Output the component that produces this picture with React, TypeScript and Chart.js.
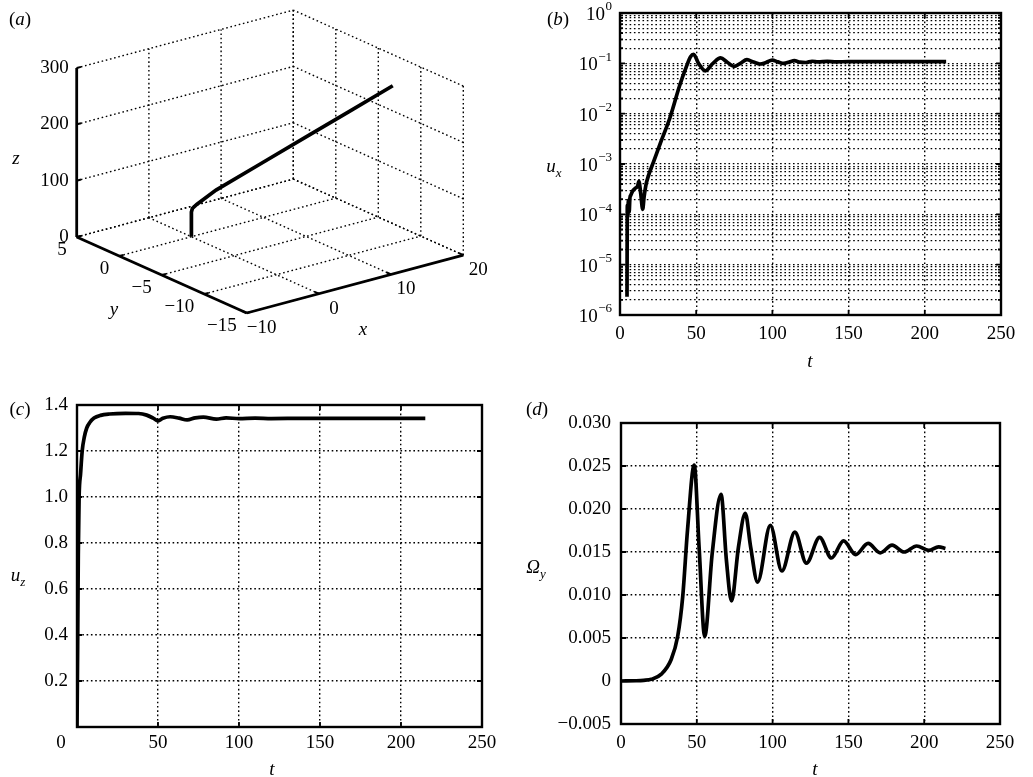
import React, { useEffect, useRef } from "react";
import { Chart, registerables } from "chart.js";

Chart.register(...registerables);

// ---------------- Data ----------------
// (a) 3-D trajectory of the body
const trajX = [0, 0, 0, 0.1, 0.5, 1.2, 2, 6, 10, 14, 18];
const trajY = [0, 0, 0, -0.03, -0.2, -0.7, -1.2, -3.0, -4.8, -6.6, -8.4];
const trajZ = [0, 20, 44, 50, 57, 70, 84, 128.75, 173.5, 218.25, 263];
const x3Ticks = [-10, 0, 10, 20];
const y3Ticks = [-15, -10, -5, 0, 5];
const z3Ticks = [0, 100, 200, 300];

// (b) u_x versus t (logarithmic)
const uxT = [4.6, 4.8, 5.1, 5.5, 6.0, 6.5, 7.1, 8.3, 10.0, 11.5, 12.4, 13.6, 14.9, 15.8, 17.0, 18.8, 22.0, 26.5, 33.0, 39.0, 43.5, 46.3, 48.3, 51.5, 56.0, 61.0, 66.0, 70.4, 74.7, 79.0, 83.3, 87.6, 91.8, 95.8, 99.8, 103.6, 107.5, 111.0, 114.4, 118, 122, 126, 130, 136, 142, 150, 170, 190, 214];
const uxV = [2.3e-6, 1.5e-4, 9e-5, 1.9e-4, 1.1e-4, 2.1e-4, 2.4e-4, 2.9e-4, 3.3e-4, 3.6e-4, 4.5e-4, 2.6e-4, 1.26e-4, 2.2e-4, 3.8e-4, 6.0e-4, 1.1e-3, 2.6e-3, 8.7e-3, 0.035, 0.085, 0.135, 0.15, 0.1, 0.071, 0.1, 0.128, 0.105, 0.087, 0.1, 0.118, 0.106, 0.097, 0.104, 0.116, 0.107, 0.1, 0.106, 0.113, 0.106, 0.104, 0.11, 0.107, 0.109, 0.107, 0.108, 0.108, 0.108, 0.108];
const uxDecades = [-6, -5, -4, -3, -2, -1, 0];

// (c) u_z versus t
const uzT = [0, 0.4, 0.8, 1.3, 2.2, 3.2, 4.5, 6, 8, 10.5, 14.5, 20, 30, 38, 43, 47, 50, 53, 57.5, 63, 68, 73, 78, 86, 92, 100, 110, 120, 140, 170, 215];
const uzV = [0, 0.35, 0.75, 1.0, 1.1, 1.2, 1.26, 1.3, 1.325, 1.343, 1.355, 1.361, 1.364, 1.363, 1.356, 1.343, 1.331, 1.342, 1.349, 1.343, 1.335, 1.344, 1.347, 1.339, 1.344, 1.341, 1.343, 1.341, 1.342, 1.342, 1.342];
const uzTicks = [0, 0.2, 0.4, 0.6, 0.8, 1.0, 1.2, 1.4];

// (d) Omega_y versus t
const omT = [0, 10, 15, 20, 26.6, 33.1, 37.4, 40.7, 43.9, 48.3, 51.5, 55.2, 60.2, 66.0, 69.5, 72.9, 77.5, 82.0, 85.5, 90.1, 98.5, 106.1, 114.7, 122.3, 131.0, 138.8, 146.8, 154.8, 163.0, 171.0, 178.8, 186.8, 195.0, 203.0, 209.5, 214];
const omV = [0, 0.00003, 0.00008, 0.0002, 0.0008, 0.0025, 0.0052, 0.0098, 0.0176, 0.0251, 0.0156, 0.0052, 0.0149, 0.0217, 0.0141, 0.0093, 0.0156, 0.0195, 0.0156, 0.0115, 0.0181, 0.0128, 0.0173, 0.0137, 0.0167, 0.0143, 0.0163, 0.0147, 0.016, 0.0149, 0.0158, 0.015, 0.0157, 0.0152, 0.0156, 0.0154];
const omTicks = [-0.005, 0, 0.005, 0.01, 0.015, 0.02, 0.025, 0.03];

const tTicks = [0, 50, 100, 150, 200, 250];

// ---------------- Style ----------------
const FONT = "'Liberation Serif', 'Times New Roman', Times, serif";
const TICK_PX = 19;
const GRID_COLOR = "#000";
const GRID_W = 1.4;
const DOT = [1.6, 2.7];
const LINE_W = 3.7;

const minus = (v: number | string) => String(v).replace("-", "\u2212");

// 3-D box projection (panel a, canvas pixels)
const BOX_ORIGIN = [246.7, 313];
const BOX_XEDGE = [216.6, -57.9];
const BOX_YEDGE = [-170, -76];
const BOX_ZEDGE = [0, -169];
const X3MIN = x3Ticks[0], X3MAX = x3Ticks[x3Ticks.length - 1];
const Y3MIN = y3Ticks[0], Y3MAX = y3Ticks[y3Ticks.length - 1];
const Z3MIN = z3Ticks[0], Z3MAX = z3Ticks[z3Ticks.length - 1];

function proj(x: number, y: number, z: number) {
  const a = (x - X3MIN) / (X3MAX - X3MIN);
  const b = (y - Y3MIN) / (Y3MAX - Y3MIN);
  const c = (z - Z3MIN) / (Z3MAX - Z3MIN);
  return {
    x: BOX_ORIGIN[0] + a * BOX_XEDGE[0] + b * BOX_YEDGE[0] + c * BOX_ZEDGE[0],
    y: BOX_ORIGIN[1] + a * BOX_XEDGE[1] + b * BOX_YEDGE[1] + c * BOX_ZEDGE[1],
  };
}

function seg(p: number[], q: number[], kind: "grid" | "axis" | "tick") {
  const pts = [proj(p[0], p[1], p[2]), proj(q[0], q[1], q[2])];
  if (kind === "grid") {
    return { data: pts, showLine: true, borderColor: GRID_COLOR, borderWidth: GRID_W, borderDash: DOT, pointRadius: 0, order: 3 };
  }
  return { data: pts, showLine: true, borderColor: "#000", borderWidth: kind === "axis" ? 2.8 : 2, pointRadius: 0, order: 2 };
}

function build3DDatasets() {
  const ds: any[] = [];
  // floor z = min
  for (const x of x3Ticks) ds.push(seg([x, Y3MIN, Z3MIN], [x, Y3MAX, Z3MIN], "grid"));
  for (const y of y3Ticks) ds.push(seg([X3MIN, y, Z3MIN], [X3MAX, y, Z3MIN], "grid"));
  // back wall y = max
  for (const x of x3Ticks) ds.push(seg([x, Y3MAX, Z3MIN], [x, Y3MAX, Z3MAX], "grid"));
  for (const z of z3Ticks) ds.push(seg([X3MIN, Y3MAX, z], [X3MAX, Y3MAX, z], "grid"));
  // side wall x = max
  for (const y of y3Ticks) ds.push(seg([X3MAX, y, Z3MIN], [X3MAX, y, Z3MAX], "grid"));
  for (const z of z3Ticks) ds.push(seg([X3MAX, Y3MIN, z], [X3MAX, Y3MAX, z], "grid"));
  // axes
  ds.push(seg([X3MIN, Y3MAX, Z3MIN], [X3MIN, Y3MAX, Z3MAX], "axis"));
  ds.push(seg([X3MIN, Y3MAX, Z3MIN], [X3MIN, Y3MIN, Z3MIN], "axis"));
  ds.push(seg([X3MIN, Y3MIN, Z3MIN], [X3MAX, Y3MIN, Z3MIN], "axis"));
  // tick marks
  for (const z of z3Ticks) ds.push(seg([X3MIN, Y3MAX, z], [X3MIN + 0.6, Y3MAX, z], "tick"));
  for (const y of y3Ticks) ds.push(seg([X3MIN, y, Z3MIN], [X3MIN + 0.6, y, Z3MIN], "tick"));
  for (const x of x3Ticks) ds.push(seg([x, Y3MIN, Z3MIN], [x, Y3MIN + 0.5, Z3MIN], "tick"));
  // trajectory
  ds.push({
    data: trajX.map((x, i) => proj(x, trajY[i], trajZ[i])),
    showLine: true, borderColor: "#000", borderWidth: LINE_W, pointRadius: 0, order: 0,
  });
  return ds;
}

const labels3D = {
  id: "labels3D",
  afterDraw(chart: any) {
    const ctx = chart.ctx;
    const sx = chart.scales.x, sy = chart.scales.y;
    const P = (x: number, y: number, z: number) => {
      const p = proj(x, y, z);
      return [sx.getPixelForValue(p.x), sy.getPixelForValue(p.y)];
    };
    ctx.save();
    ctx.fillStyle = "#000";
    ctx.font = `${TICK_PX}px ${FONT}`;
    ctx.textBaseline = "middle";
    ctx.textAlign = "right";
    for (const z of z3Ticks) { const [px, py] = P(X3MIN, Y3MAX, z); ctx.fillText(String(z), px - 8, py); }
    for (const y of y3Ticks) { const [px, py] = P(X3MIN, y, Z3MIN); ctx.fillText(minus(y), px - 10, py + 13); }
    ctx.textAlign = "center";
    for (const x of x3Ticks) { const [px, py] = P(x, Y3MIN, Z3MIN); ctx.fillText(minus(x), px + 15, py + 15); }
    ctx.restore();
  },
};

const framePlugin = {
  id: "frame",
  afterDraw(chart: any) {
    const { ctx, chartArea } = chart;
    const { left, top, right, bottom } = chartArea;
    ctx.save();
    ctx.setLineDash([]);
    ctx.strokeStyle = "#000";
    ctx.lineWidth = 2.4;
    ctx.strokeRect(left, top, right - left, bottom - top);
    ctx.lineWidth = 1.8;
    ctx.beginPath();
    const xs = chart.scales.x, ys = chart.scales.y;
    for (const t of xs.ticks) {
      const px = xs.getPixelForValue(t.value);
      ctx.moveTo(px, bottom); ctx.lineTo(px, bottom - 5);
      ctx.moveTo(px, top); ctx.lineTo(px, top + 5);
    }
    const isLog = ys.type === "logarithmic";
    for (const t of ys.ticks) {
      const py = ys.getPixelForValue(t.value);
      let len = 5;
      if (isLog) {
        const l = Math.log10(t.value);
        len = Math.abs(l - Math.round(l)) < 1e-9 ? 5 : 3;
      }
      ctx.moveTo(left, py); ctx.lineTo(left + len, py);
      ctx.moveTo(right, py); ctx.lineTo(right - len, py);
    }
    ctx.stroke();
    ctx.restore();
  },
};

const logLabelPlugin = {
  id: "logLabels",
  afterDraw(chart: any) {
    const ctx = chart.ctx;
    const s = chart.scales.y;
    const right = chart.chartArea.left - 8;
    ctx.save();
    ctx.fillStyle = "#000";
    ctx.textBaseline = "middle";
    for (const e of uxDecades) {
      const py = s.getPixelForValue(Math.pow(10, e));
      const exp = minus(e);
      ctx.font = `13px ${FONT}`;
      const we = ctx.measureText(exp).width;
      ctx.textAlign = "left";
      ctx.fillText(exp, right - we, py - 6);
      ctx.font = `${TICK_PX}px ${FONT}`;
      ctx.textAlign = "right";
      ctx.fillText("10", right - we - 0.5, py + 2);
    }
    ctx.restore();
  },
};

const zeroLabelPlugin = {
  id: "zeroLabel",
  afterDraw(chart: any) {
    const ctx = chart.ctx;
    const { left, bottom } = chart.chartArea;
    ctx.save();
    ctx.fillStyle = "#000";
    ctx.font = `${TICK_PX}px ${FONT}`;
    ctx.textBaseline = "middle";
    ctx.textAlign = "center";
    ctx.fillText(String(tTicks[0]), left - 16, bottom + 5 + TICK_PX * 0.6);
    ctx.restore();
  },
};

function xScale(pad: number, height: number, cb: (v: number) => string) {
  return {
    type: "linear",
    min: tTicks[0],
    max: tTicks[tTicks.length - 1],
    afterBuildTicks: (s: any) => { s.ticks = tTicks.map((v) => ({ value: v })); },
    afterFit: (s: any) => { s.height = height; s.paddingLeft = 0; s.paddingRight = 0; },
    ticks: { color: "#000", font: { family: FONT, size: TICK_PX }, padding: pad, maxRotation: 0, minRotation: 0, autoSkip: false, callback: cb },
    grid: { color: GRID_COLOR, lineWidth: GRID_W, drawTicks: false },
    border: { display: true, color: "#000", width: 2, dash: DOT },
  };
}

function yLinear(ticks: number[], pad: number, width: number, cb: (v: number) => string) {
  return {
    type: "linear",
    min: ticks[0],
    max: ticks[ticks.length - 1],
    afterBuildTicks: (s: any) => { s.ticks = ticks.map((v) => ({ value: v })); },
    afterFit: (s: any) => { s.width = width; s.paddingTop = 0; s.paddingBottom = 0; },
    ticks: { color: "#000", font: { family: FONT, size: TICK_PX }, padding: pad, autoSkip: false, callback: cb },
    grid: { color: GRID_COLOR, lineWidth: GRID_W, drawTicks: false },
    border: { display: true, color: "#000", width: 2, dash: DOT },
  };
}

function lineDataset(ts: number[], vs: number[]) {
  return {
    data: ts.map((t, i) => ({ x: t, y: vs[i] })),
    borderColor: "#000",
    borderWidth: LINE_W,
    pointRadius: 0,
    fill: false,
    cubicInterpolationMode: "monotone",
  };
}

const baseOptions = (padding: any) => ({
  responsive: false,
  animation: false,
  devicePixelRatio: 1,
  events: [],
  layout: { padding, autoPadding: false },
  plugins: { legend: { display: false }, tooltip: { enabled: false } },
});

const Txt = ({ x, y, size = TICK_PX, children }: any) => (
  <div
    style={{
      position: "absolute", left: x, top: y, transform: "translate(-50%, -50%)",
      fontFamily: FONT, fontSize: size, lineHeight: 1, whiteSpace: "nowrap", color: "#000",
    }}
  >
    {children}
  </div>
);

const Sub = ({ children }: any) => (
  <i style={{ fontSize: 13, position: "relative", top: 5 }}>{children}</i>
);

export default function App() {
  const refA = useRef<HTMLCanvasElement>(null);
  const refB = useRef<HTMLCanvasElement>(null);
  const refC = useRef<HTMLCanvasElement>(null);
  const refD = useRef<HTMLCanvasElement>(null);

  useEffect(() => {
    const charts: Chart[] = [];

    charts.push(new Chart(refA.current as HTMLCanvasElement, {
      type: "scatter",
      data: { datasets: build3DDatasets() },
      options: {
        ...baseOptions(0),
        scales: {
          x: { type: "linear", min: 0, max: 500, display: false },
          y: { type: "linear", min: 0, max: 380, reverse: true, display: false },
        },
      } as any,
      plugins: [labels3D],
    } as any));

    const logTicks: number[] = [];
    for (const e of uxDecades) {
      if (e === uxDecades[uxDecades.length - 1]) { logTicks.push(Math.pow(10, e)); break; }
      for (let m = 1; m <= 9; m++) logTicks.push(m * Math.pow(10, e));
    }

    charts.push(new Chart(refB.current as HTMLCanvasElement, {
      type: "line",
      data: { datasets: [lineDataset(uxT, uxV)] },
      options: {
        ...baseOptions({ top: 13, right: 32, bottom: 0, left: 0 }),
        scales: {
          x: xScale(8, 65, (v) => String(v)),
          y: {
            type: "logarithmic",
            min: Math.pow(10, uxDecades[0]),
            max: Math.pow(10, uxDecades[uxDecades.length - 1]),
            afterBuildTicks: (s: any) => { s.ticks = logTicks.map((v) => ({ value: v })); },
            afterFit: (s: any) => { s.width = 120; s.paddingTop = 0; s.paddingBottom = 0; },
            ticks: { display: false, autoSkip: false },
            grid: { color: GRID_COLOR, lineWidth: 1.2, drawTicks: false },
            border: { display: true, color: "#000", width: 2, dash: DOT },
          },
        },
      } as any,
      plugins: [framePlugin, logLabelPlugin],
    } as any));

    charts.push(new Chart(refC.current as HTMLCanvasElement, {
      type: "line",
      data: { datasets: [lineDataset(uzT, uzV)] },
      options: {
        ...baseOptions({ top: 25, right: 18, bottom: 0, left: 0 }),
        scales: {
          x: xScale(5, 50, (v) => (v === 0 ? "" : String(v))),
          y: yLinear(uzTicks, 9, 77, (v) => (v === 0 ? "" : Number(v).toFixed(1))),
        },
      } as any,
      plugins: [framePlugin, zeroLabelPlugin],
    } as any));

    charts.push(new Chart(refD.current as HTMLCanvasElement, {
      type: "line",
      data: { datasets: [lineDataset(omT, omV)] },
      options: {
        ...baseOptions({ top: 43, right: 33, bottom: 0, left: 0 }),
        scales: {
          x: xScale(8, 53, (v) => String(v)),
          y: yLinear(omTicks, 10, 121, (v) => (Math.abs(v) < 1e-12 ? "0" : minus(Number(v).toFixed(3)))),
        },
      } as any,
      plugins: [framePlugin],
    } as any));

    return () => charts.forEach((c) => c.destroy());
  }, []);

  const cv = (l: number, t: number, w: number, h: number) => ({
    position: "absolute" as const, left: l, top: t, width: w, height: h,
  });

  return (
    <div style={{ position: "absolute", left: 0, top: 0, width: 1033, height: 777, background: "#fff", overflow: "hidden" }}>
      <canvas ref={refA} width={500} height={380} style={cv(0, 0, 500, 380)} />
      <canvas ref={refB} width={533} height={380} style={cv(500, 0, 533, 380)} />
      <canvas ref={refC} width={500} height={397} style={cv(0, 380, 500, 397)} />
      <canvas ref={refD} width={533} height={397} style={cv(500, 380, 533, 397)} />

      <Txt x={20} y={18}>(<i>a</i>)</Txt>
      <Txt x={558} y={18}>(<i>b</i>)</Txt>
      <Txt x={20} y={408}>(<i>c</i>)</Txt>
      <Txt x={537} y={408}>(<i>d</i>)</Txt>

      <Txt x={16} y={157}><i>z</i></Txt>
      <Txt x={114} y={308}><i>y</i></Txt>
      <Txt x={363} y={328}><i>x</i></Txt>

      <Txt x={554} y={165}><i>u</i><Sub>x</Sub></Txt>
      <Txt x={810} y={360}><i>t</i></Txt>

      <Txt x={18} y={574}><i>u</i><Sub>z</Sub></Txt>
      <Txt x={272} y={768}><i>t</i></Txt>

      <Txt x={536} y={566}><i>Ω</i><Sub>y</Sub></Txt>
      <Txt x={815} y={768}><i>t</i></Txt>
    </div>
  );
}
